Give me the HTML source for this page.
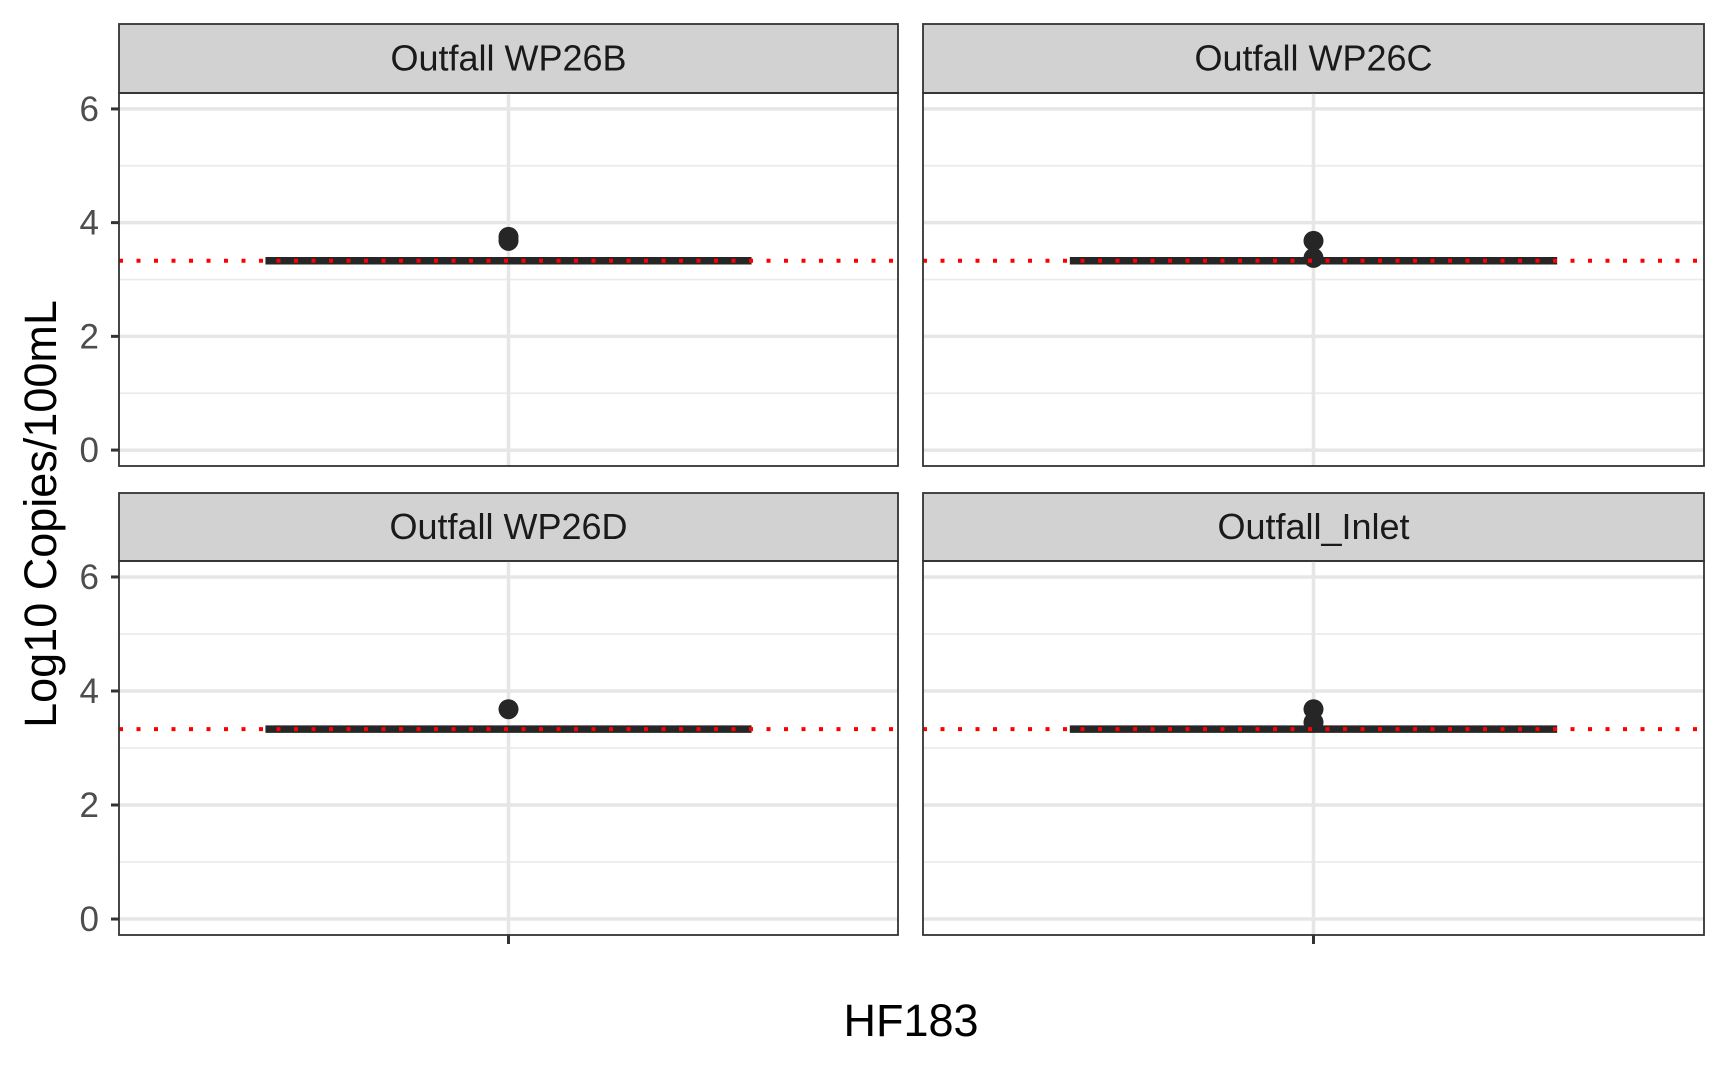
<!DOCTYPE html>
<html><head><meta charset="utf-8"><style>
body{margin:0;background:#fff;width:1728px;height:1068px;overflow:hidden}
text{font-family:"Liberation Sans",sans-serif}
</style></head><body>
<svg id="chart" width="1728" height="1068" xmlns="http://www.w3.org/2000/svg"></svg>
<script>
const facets = ["Outfall WP26B","Outfall WP26C","Outfall WP26D","Outfall_Inlet"];
const medians = [3.33, 3.33, 3.33, 3.33];
const pointsB = [3.75, 3.68];
const pointsC = [3.68, 3.38];
const pointsD = [3.68];
const pointsI = [3.68, 3.45];
const threshold = 3.33;
const yTicks = [0, 2, 4, 6];
const category = "HF183";

const svg = document.getElementById('chart');
const NS = 'http://www.w3.org/2000/svg';
function mk(tag, attrs, parent){const e=document.createElementNS(NS,tag);for(const k in attrs)e.setAttribute(k,attrs[k]);(parent||svg).appendChild(e);return e;}
const allPts=[pointsB,pointsC,pointsD,pointsI];
const cols=[[119,898],[923,1704]];
const rows=[{s:24,p0:93,p1:466},{s:493,p0:561,p1:935}];
const yMin=-0.28, yMax=6.28;
facets.forEach((name,i)=>{
  const c=cols[i%2], r=rows[Math.floor(i/2)];
  const y=v=>r.p1-(v-yMin)/(yMax-yMin)*(r.p1-r.p0);
  const cx=(c[0]+c[1])/2;
  const g=mk('g',{});
  
  
  const strip=mk('rect',{x:c[0],y:r.s,width:c[1]-c[0],height:r.p0-r.s,fill:'#d2d2d2',stroke:'#333','stroke-width':1.8},g);
  
  
  const st=mk('text',{x:cx,y:(r.s+r.p0)/2+12,'text-anchor':'middle','font-size':36,fill:'#1a1a1a'},g);
  st.textContent=name;
  
  
  for(let k=0;k<yTicks.length-1;k++){const v=(yTicks[k]+yTicks[k+1])/2;
    mk('line',{x1:c[0],x2:c[1],y1:y(v),y2:y(v),stroke:'#ebebeb','stroke-width':1.8},g);}
  yTicks.forEach(v=>{
    const gl=mk('line',{x1:c[0],x2:c[1],y1:y(v),y2:y(v),stroke:'#e6e6e6','stroke-width':3.5},g);
    
    
  });
  mk('line',{x1:cx,x2:cx,y1:r.p0,y2:r.p1,stroke:'#e6e6e6','stroke-width':3.5},g);
  const hw=(c[1]-c[0])*0.312;
  const med=mk('line',{x1:cx-hw,x2:cx+hw,y1:y(medians[i]),y2:y(medians[i]),stroke:'#262626','stroke-width':7.5},g);
  
  
  allPts[i].forEach(v=>{
    const p=mk('circle',{cx:cx,cy:y(v),r:10,fill:'#262626'},g);
    
    
  });
  const th=mk('line',{x1:c[0],x2:c[1],y1:y(threshold),y2:y(threshold),stroke:'#ff0000','stroke-width':4,'stroke-dasharray':'4 13.5'},g);
  
  
  mk('rect',{x:c[0],y:r.p0,width:c[1]-c[0],height:r.p1-r.p0,fill:'none',stroke:'#333','stroke-width':1.8},g);
  if(i%2===0){
    yTicks.forEach(v=>{
      mk('line',{x1:c[0]-8,x2:c[0],y1:y(v),y2:y(v),stroke:'#333','stroke-width':3},g);
      const t=mk('text',{x:c[0]-20,y:y(v)+12,'text-anchor':'end','font-size':35,fill:'#4d4d4d'},g);
      t.textContent=v;
      
      
    });
  }
  if(r===rows[1]){
    mk('line',{x1:cx,x2:cx,y1:r.p1,y2:r.p1+9,stroke:'#333','stroke-width':3},g);
  }
});
const xt=mk('text',{x:911,y:1036,'text-anchor':'middle','font-size':45,fill:'#000'});
xt.textContent=category;


const yt=mk('text',{x:0,y:0,'text-anchor':'middle','font-size':45,fill:'#000',transform:'translate(56,514) rotate(-90)'});
yt.textContent='Log10 Copies/100mL';


</script>
</body></html>
